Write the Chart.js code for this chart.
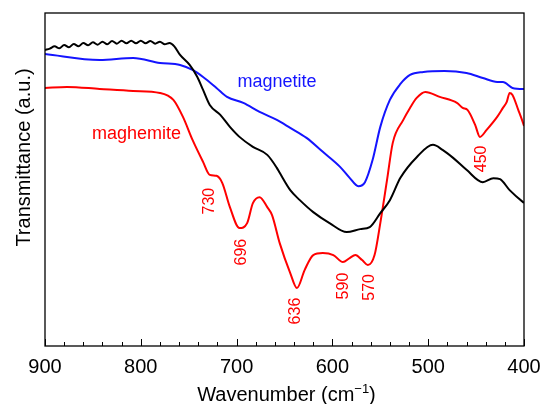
<!DOCTYPE html>
<html lang="en">
<head>
  <meta charset="UTF-8">
  <title>FTIR magnetite / maghemite</title>
  <script src="https://cdn.jsdelivr.net/npm/chart.js"></script>
  <style>
    html, body { margin: 0; background: #fff; }
    #wrap { width: 543px; height: 404px; }
  </style>
</head>
<body>
  <div id="wrap">
    <canvas id="ftirChart" width="543" height="404"></canvas>
  </div>
  <script>
    // black sample
    const blackWn = [900,895,890,885,880,875,870,865,860,855,850,845,840,835,830,825,820,815,810,805,800,795,790,785,780,775,770,
      765,759,749,741,735,728,717,707,697,683,668,658,655,644,634,620,603,585,571,561,550,540,529,512,495,485,474,460,443,432,425,415,401,400];
    const blackT = [88.9,89.3,90.0,89.4,90.4,89.7,90.7,90.0,91.0,90.3,91.2,90.5,91.4,90.6,91.6,90.8,91.7,90.9,91.7,90.9,91.7,90.9,91.6,90.8,91.4,90.6,91.0,
      90.0,87.4,84.4,80.8,76.9,72.4,69.4,65.8,62.8,59.8,57.4,53.5,52.0,46.8,43.8,40.2,36.9,34.2,35.1,35.7,39.9,43.8,50.5,56.7,60.4,58.9,56.5,52.9,49.2,50.4,50.1,46.8,43.2,43.0];

    // magnetite
    const blueWn = [900,843,808,780,759,746,735,721,710,693,676,658,644,627,610,592,582,573,566,558,550,540,529,519,505,483,460,443,428,422,412,401,400];
    const blueT = [87.7,85.9,86.5,85.0,84.4,82.9,80.8,77.5,74.8,73.0,70.3,67.9,65.5,62.5,58.3,53.8,50.5,48.0,49.2,55.9,65.8,73.9,78.7,81.4,82.3,82.6,82.0,80.5,79.3,79.3,77.5,77.2,77.2];

    // maghemite
    const redWn = [900,877,843,808,780,766,756,746,735,728,721,715,707,697,689,683,676,668,663,655,644,637,629,620,610,599,589,582,576,569,563,556,550,543,537,526,519,512,503,488,470,464,459,451,446,439,428,422,418,415,412,406,401,400];
    const redT = [77.5,77.8,77.2,76.6,76.0,73.9,68.8,61.9,55.3,51.4,51.1,49.0,41.7,35.4,36.9,42.9,44.7,41.7,39.3,30.9,21.9,17.4,22.8,27.3,27.9,27.3,25.2,26.4,27.3,25.8,24.3,27.3,36.9,49.8,61.0,67.9,71.5,74.5,76.3,74.8,73.0,71.5,70.9,66.4,62.8,64.9,68.8,71.5,73.3,76.0,75.4,70.9,67.0,66.1];

    const xTicksMajor = [900, 800, 700, 600, 500, 400];

    const toPts = (wn, t) => wn.map((w, i) => ({ x: w, y: t[i] }));

    // text placed on the plot, in data coordinates
    const notes = [
      { text: 'magnetite', x: 657.8, y: 77.7, color: '#1414ff', size: 18, rot: false },
      { text: 'maghemite', x: 804.5, y: 62.2, color: '#ff0000', size: 18, rot: false },
      { text: '730', x: 727.8, y: 43.5, color: '#ff0000', size: 16, rot: true },
      { text: '696', x: 694.4, y: 28.2, color: '#ff0000', size: 16, rot: true },
      { text: '636', x: 638.0, y: 10.5, color: '#ff0000', size: 16, rot: true },
      { text: '590', x: 587.9, y: 18.0, color: '#ff0000', size: 16, rot: true },
      { text: '570', x: 561.3, y: 17.6, color: '#ff0000', size: 16, rot: true },
      { text: '450', x: 443.9, y: 56.2, color: '#ff0000', size: 16, rot: true }
    ];

    const decor = {
      id: 'decor',
      afterDraw(chart) {
        const { ctx, chartArea: a, scales: { x, y } } = chart;
        ctx.save();
        ctx.strokeStyle = '#000';
        ctx.lineWidth = 1.3;
        ctx.strokeRect(a.left, a.top, a.right - a.left, a.bottom - a.top);

        // inward ticks on the bottom axis
        ctx.lineWidth = 1;
        x.ticks.forEach(t => {
          const px = Math.round(x.getPixelForValue(t.value)) + 0.5;
          const len = xTicksMajor.includes(t.value) ? 7 : 4;
          ctx.beginPath();
          ctx.moveTo(px, a.bottom);
          ctx.lineTo(px, a.bottom - len);
          ctx.stroke();
        });

        notes.forEach(n => {
          const px = x.getPixelForValue(n.x);
          const py = y.getPixelForValue(n.y);
          ctx.fillStyle = n.color;
          ctx.font = n.size + 'px Arial, "Liberation Sans", sans-serif';
          ctx.textAlign = 'center';
          if (n.rot) {
            ctx.save();
            ctx.translate(px, py);
            ctx.rotate(-Math.PI / 2);
            ctx.textBaseline = 'middle';
            ctx.fillText(n.text, 0, 0);
            ctx.restore();
          } else {
            ctx.textBaseline = 'alphabetic';
            ctx.fillText(n.text, px, py);
          }
        });

        // axis titles
        ctx.fillStyle = '#000';
        ctx.font = '20px Arial, "Liberation Sans", sans-serif';
        ctx.save();
        ctx.translate(24, 157.5);
        ctx.rotate(-Math.PI / 2);
        ctx.textAlign = 'center';
        ctx.textBaseline = 'middle';
        ctx.fillText('Transmittance (a.u.)', 0, 0);
        ctx.restore();

        const main = 'Wavenumber (cm', sup = '\u22121', tail = ')';
        ctx.textAlign = 'left';
        ctx.textBaseline = 'alphabetic';
        const wMain = ctx.measureText(main).width;
        const wTail = ctx.measureText(tail).width;
        ctx.font = '13px Arial, "Liberation Sans", sans-serif';
        const wSup = ctx.measureText(sup).width;
        const cx = (a.left + a.right) / 2 + 2;
        let sx = cx - (wMain + wSup + wTail) / 2;
        const base = 401;
        ctx.font = '20px Arial, "Liberation Sans", sans-serif';
        ctx.fillText(main, sx, base);
        ctx.font = '13px Arial, "Liberation Sans", sans-serif';
        ctx.fillText(sup, sx + wMain, base - 8);
        ctx.font = '20px Arial, "Liberation Sans", sans-serif';
        ctx.fillText(tail, sx + wMain + wSup, base);
        ctx.restore();
      }
    };

    const ctx = document.getElementById('ftirChart').getContext('2d');
    const chart = new Chart(ctx, {
      type: 'line',
      data: {
        datasets: [
          { label: 'sample', data: toPts(blackWn, blackT), borderColor: '#000000' },
          { label: 'magnetite', data: toPts(blueWn, blueT), borderColor: '#1414ff' },
          { label: 'maghemite', data: toPts(redWn, redT), borderColor: '#ff0000' }
        ]
      },
      plugins: [decor],
      options: {
        responsive: false,
        animation: false,
        events: [],
        layout: { padding: { top: 13, right: 19, left: 0, bottom: 0 } },
        elements: {
          point: { radius: 0 },
          line: { borderWidth: 2, cubicInterpolationMode: 'monotone', fill: false }
        },
        plugins: { legend: { display: false }, tooltip: { enabled: false } },
        scales: {
          x: {
            type: 'linear',
            reverse: true,
            min: 400,
            max: 900,
            afterFit: s => { s.height = 58; s.paddingLeft = 0; s.paddingRight = 0; },
            grid: { display: false, drawTicks: false },
            border: { display: false },
            ticks: {
              stepSize: 20,
              autoSkip: false,
              maxRotation: 0,
              padding: 9,
              color: '#000',
              font: { size: 20, family: 'Arial, "Liberation Sans", sans-serif' },
              callback: v => xTicksMajor.includes(v) ? String(v) : ''
            }
          },
          y: {
            min: 0,
            max: 100,
            afterFit: s => { s.width = 45; s.paddingTop = 0; s.paddingBottom = 0; },
            grid: { display: false, drawTicks: false },
            border: { display: false },
            ticks: { display: false }
          }
        }
      }
    });
  </script>
</body>
</html>
